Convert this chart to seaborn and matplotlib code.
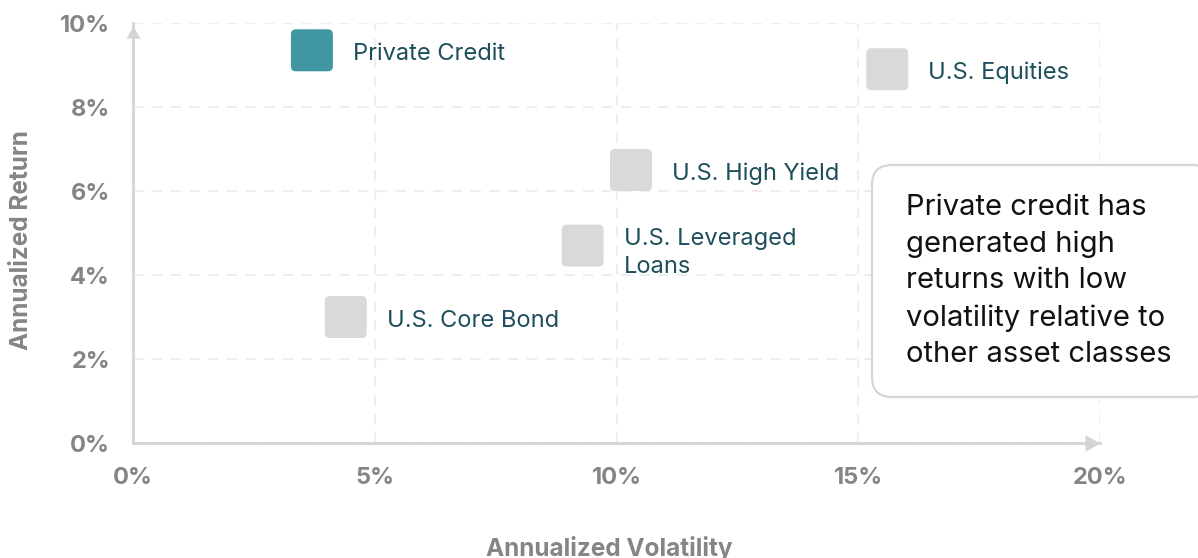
import matplotlib
matplotlib.use("Agg")
import matplotlib.pyplot as plt
import matplotlib.transforms as mtransforms
from matplotlib.patches import BoxStyle, FancyBboxPatch
from matplotlib.markers import MarkerStyle
from matplotlib.path import Path
from matplotlib.ticker import PercentFormatter
import seaborn as sns
import pandas as pd

# Risk / return by asset class (annualized, %)
assets = ["Private Credit", "U.S. Equities", "U.S. High Yield",
          "U.S. Leveraged\nLoans", "U.S. Core Bond"]
volatility = [3.7, 15.6, 10.3, 9.3, 4.4]
annual_return = [9.35, 8.9, 6.5, 4.7, 3.0]
x_ticks = [0, 5, 10, 15, 20]
y_ticks = [0, 2, 4, 6, 8, 10]
callout = ("Private credit has\ngenerated high\nreturns with low\n"
           "volatility relative to\nother asset classes")

TEAL = "#4097a3"
SQUARE_GREY = "#d9d9d9"
AXIS_GREY = "#d4d4d4"
GRID_GREY = "#eeeeee"
TICK_TEXT = "#858585"
LABEL_TEXT = "#1d4e5b"

df = pd.DataFrame({"asset": assets, "volatility": volatility,
                   "annual_return": annual_return})
palette = {a: (TEAL if a == "Private Credit" else SQUARE_GREY) for a in assets}

sns.set_theme(style="white")
plt.rcParams["font.family"] = ["Inter", "DejaVu Sans"]

fig = plt.figure(figsize=(11.98, 5.58), dpi=100)
ax = fig.add_axes([133 / 1198, 1 - 443 / 558, 967 / 1198, 420 / 558])

# rounded-square marker
rounded_square = BoxStyle.Round(pad=0, rounding_size=0.12)(-0.5, -0.5, 1, 1, 1.0)
sns.scatterplot(data=df, x="volatility", y="annual_return", hue="asset",
                palette=palette, marker=MarkerStyle(rounded_square), s=914,
                linewidth=0, legend=False, ax=ax, zorder=3, clip_on=False)

for name, xv, yv in zip(assets, volatility, annual_return):
    dy = -5.5 if "\n" in name else -2.6
    ax.annotate(name, (xv, yv), xytext=(29.5, dy), textcoords="offset points",
                ha="left", va="center", fontsize=17, color=LABEL_TEXT,
                linespacing=1.38)

ax.set_xlim(0, 20)
ax.set_ylim(0, 10)
ax.set_xticks(x_ticks)
ax.set_yticks(y_ticks)
ax.xaxis.set_major_formatter(PercentFormatter(decimals=0))
ax.yaxis.set_major_formatter(PercentFormatter(decimals=0))

ax.set_axisbelow(True)
ax.grid(True, color=GRID_GREY, linewidth=1.5, linestyle=(0, (5, 4)))

for side in ("top", "right"):
    ax.spines[side].set_visible(False)
for side in ("left", "bottom"):
    ax.spines[side].set_color(AXIS_GREY)
    ax.spines[side].set_linewidth(2)

ax.tick_params(axis="both", length=9.5, width=1.6, color=AXIS_GREY,
               labelsize=17, labelcolor=TICK_TEXT)
ax.tick_params(axis="y", pad=7)
ax.tick_params(axis="x", pad=8)
for lab in ax.get_xticklabels() + ax.get_yticklabels():
    lab.set_fontweight("bold")
ax.yaxis.get_major_ticks()[-1].tick1line.set_visible(False)

# arrow heads on the axis ends
right_head = Path([(0, 0), (-1, 0.55), (-1, -0.55), (0, 0)],
                  [Path.MOVETO, Path.LINETO, Path.LINETO, Path.CLOSEPOLY])
up_head = Path([(0, 0), (-0.58, -1), (0.58, -1), (0, 0)],
               [Path.MOVETO, Path.LINETO, Path.LINETO, Path.CLOSEPOLY])
ax.plot([1], [0], marker=MarkerStyle(right_head), ms=21.6, color=AXIS_GREY,
        transform=ax.transAxes, clip_on=False, zorder=4, mew=0)
ax.plot([0], [0.992], marker=MarkerStyle(up_head), ms=17.5, color=AXIS_GREY,
        transform=ax.transAxes, clip_on=False, zorder=4, mew=0)

ax.set_xlabel("Annualized Volatility", fontsize=17.5, fontweight="bold",
              color=TICK_TEXT)
ax.xaxis.set_label_coords(0.493, (443 - 536) / 420)
ax.xaxis.label.set_verticalalignment("top")
ax.set_ylabel("Annualized Return", fontsize=17.5, fontweight="bold",
              color=TICK_TEXT)
ax.yaxis.set_label_coords((22 - 133) / 967, (443 - 240) / 420)
ax.yaxis.label.set_verticalalignment("center")

# callout box (pixel coordinates)
px = mtransforms.IdentityTransform()
box = FancyBboxPatch((872, 558 - 397), 340, 232,
                     boxstyle=BoxStyle.Round(pad=0, rounding_size=20),
                     transform=px, facecolor="white", edgecolor="#d6d6d6",
                     linewidth=1.6, zorder=5)
fig.add_artist(box)
fig.text(906 / 1198, 1 - 281 / 558, callout, ha="left", va="center",
         fontsize=21, color="#111111", linespacing=1.45, zorder=6)

fig.savefig("out.png", dpi=100)
